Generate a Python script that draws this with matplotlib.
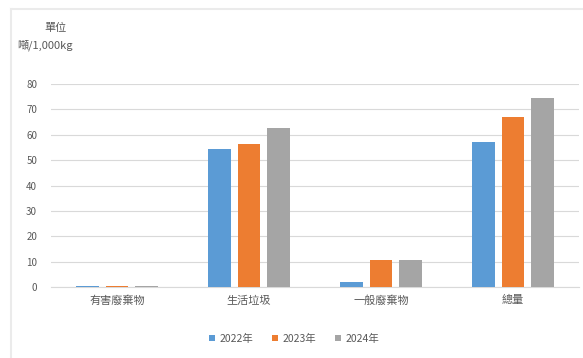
import matplotlib.pyplot as plt
import matplotlib.lines as mlines
import numpy as np

plt.rcParams['font.family'] = ['Noto Sans CJK TC', 'DejaVu Sans']

# Data
categories = ["有害廢棄物", "生活垃圾", "一般廢棄物", "總量"]
years = ["2022年", "2023年", "2024年"]
v2022 = [0.3, 54.5, 2.0, 57.3]
v2023 = [0.3, 56.3, 10.6, 67.1]
v2024 = [0.3, 62.6, 10.7, 74.5]
series = [v2022, v2023, v2024]

colors = ['#5B9BD5', '#ED7D31', '#A5A5A5']
text_color = '#595959'

fig = plt.figure(figsize=(5.83, 3.58), dpi=100)

# faint top and left edges of the chart area
fig.lines.append(mlines.Line2D([11 / 583, 1], [1 - 9 / 358, 1 - 9 / 358], transform=fig.transFigure,
                               color='#EBEBEB', linewidth=1.5))
fig.lines.append(mlines.Line2D([11 / 583, 11 / 583], [0, 1 - 9 / 358], transform=fig.transFigure,
                               color='#EBEBEB', linewidth=1.5))

ax = fig.add_axes([51 / 583, 1 - 287 / 358, 528 / 583, (287 - 84) / 358])

x = np.arange(len(categories))
width = 0.17
gap = 0.225
for i, (vals, yr) in enumerate(zip(series, years)):
    ax.bar(x + (i - 1) * gap, vals, width, color=colors[i], label=yr, zorder=3)

ax.set_ylim(0, 80)
ax.set_xlim(-0.5, len(categories) - 0.5)
ax.set_yticks(range(0, 81, 10))
ax.set_xticks(x)
ax.set_xticklabels(categories, fontsize=8, color=text_color)
ax.tick_params(axis='y', labelsize=7, colors=text_color, length=0, pad=10)
ax.tick_params(axis='x', length=0, pad=6)
ax.grid(axis='y', color='#D9D9D9', linewidth=0.8, zorder=0)
for s in ['top', 'right', 'left']:
    ax.spines[s].set_visible(False)
ax.spines['bottom'].set_color('#D9D9D9')

fig.text(55 / 583, 1 - 28 / 358, "單位", fontsize=8, color=text_color, ha='center', va='center')
fig.text(17 / 583, 1 - 45 / 358, "噸/1,000kg", fontsize=8, color=text_color, ha='left', va='center')

ax.legend(loc='center', bbox_to_anchor=(0.46, -0.255), ncol=3, frameon=False,
          fontsize=7.5, labelcolor=text_color, handlelength=0.6, handleheight=0.6,
          handletextpad=0.4, columnspacing=1.8)

fig.savefig("out.png", dpi=100, facecolor='white')
